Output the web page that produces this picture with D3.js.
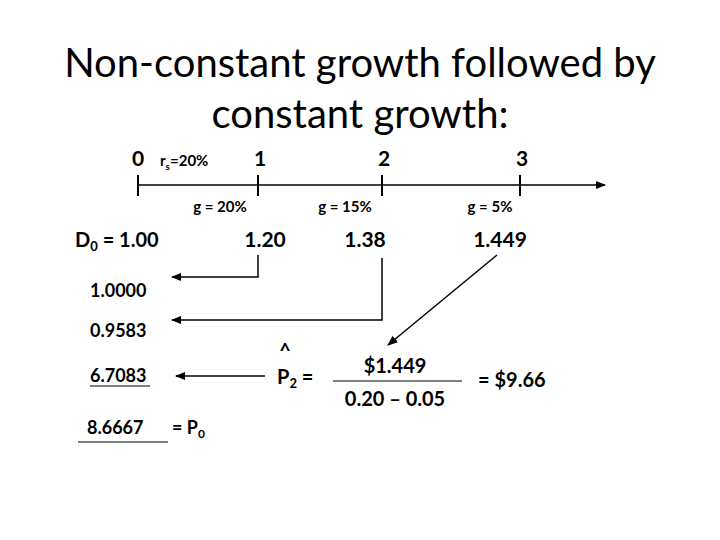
<!DOCTYPE html><html><head><meta charset="utf-8">
<script src="https://cdn.jsdelivr.net/npm/d3@7"></script>
<style>body{margin:0;background:#fff}</style></head><body>
<script>
const periods=[0,1,2,3];
const periodX=[138,258,382,520];
const growth=["g = 20%","g = 15%","g = 5%"];
const dividends=["D0 = 1.00","1.20","1.38","1.449"];
const pvs=["1.0000","0.9583","6.7083"];
const price="8.6667";
const F="Lato, 'Open Sans', sans-serif";
const svg=d3.select("body").append("svg").attr("width",720).attr("height",540);
const x=d3.scaleOrdinal().domain(periods).range(periodX);
svg.append("defs").append("marker").attr("id","ar").attr("viewBox","0 0 10 10").attr("refX",9).attr("refY",5)
 .attr("markerWidth",7).attr("markerHeight",7).attr("orient","auto-start-reverse")
 .append("path").attr("d","M0,1L10,5L0,9z").attr("fill","#000");
const T=(s,px,py,sz,anchor="start",w="normal")=>svg.append("text").attr("x",px).attr("y",py).attr("font-size",sz).attr("font-family",F).attr("text-anchor",anchor).attr("font-weight",w).text(s);
T("Non-constant growth followed by",360,77,40,"middle");
T("constant growth:",360,128,40,"middle");
svg.append("line").attr("x1",138).attr("x2",605).attr("y1",185).attr("y2",185).attr("stroke","#000").attr("stroke-width",1.5).attr("marker-end","url(#ar)");
periods.forEach(p=>{
 svg.append("line").attr("x1",x(p)).attr("x2",x(p)).attr("y1",175).attr("y2",196).attr("stroke","#000").attr("stroke-width",2);
 T(String(p),x(p)+(p?2:0),166,21,"middle","bold");
});
const rs=T("r",160,166,15,"start","bold");rs.append("tspan").attr("font-size",10).attr("dy",4).text("s");rs.append("tspan").attr("dy",-4).text("=20%");
growth.forEach((g,i)=>T(g,[220,345,490][i],212,15,"middle","bold"));
const d0=T("D",75,247,20,"start","bold");d0.append("tspan").attr("font-size",13).attr("dy",4).text("0");d0.append("tspan").attr("dy",-4).text(" = 1.00");
dividends.slice(1).forEach((d,i)=>T(d,[265,365,500][i],247,21,"middle","bold"));
const L=(pts,arrow)=>{const p=svg.append("path").attr("d",d3.line()(pts)).attr("fill","none").attr("stroke","#000").attr("stroke-width",1.5);if(arrow)p.attr("marker-end","url(#ar)");};
L([[x(1),255],[x(1),277],[172,277]],true);
L([[x(2),258],[x(2),320],[172,320]],true);
L([[497,255],[388,345]],true);
L([[265,376],[176,376]],true);
pvs.forEach((v,i)=>{T(v,90,[297,337,382][i],18,"start","bold");});
svg.append("line").attr("x1",90).attr("x2",150).attr("y1",386).attr("y2",386).attr("stroke","#000");
T(price,87,434,18,"start","bold");
svg.append("line").attr("x1",78).attr("x2",168).attr("y1",442).attr("y2",442).attr("stroke","#000");
const p0=T("= P",172,434,18,"start","bold");p0.append("tspan").attr("font-size",12).attr("dy",4).text("0");
T("^",285,358,20,"middle","bold");
const p2=T("P",277,384,20,"start","bold");p2.append("tspan").attr("font-size",13).attr("dy",4).text("2");p2.append("tspan").attr("dy",-4).text(" =");
T("$1.449",395,373,20,"middle","bold");
svg.append("line").attr("x1",333).attr("x2",462).attr("y1",381).attr("y2",381).attr("stroke","#000");
T("0.20 – 0.05",395,406,20,"middle","bold");
T("= $9.66",478,387,20,"start","bold");
</script></body></html>
